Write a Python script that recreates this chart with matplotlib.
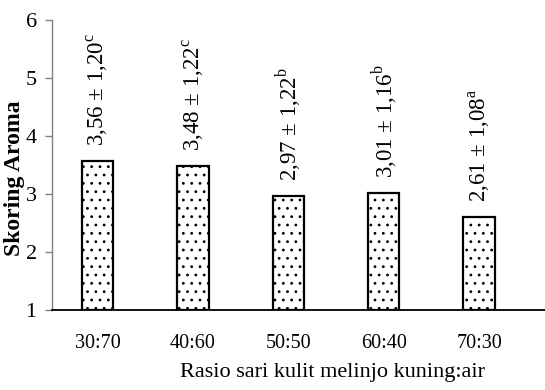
import matplotlib
matplotlib.use('Agg')
import matplotlib.pyplot as plt

plt.rcParams['font.family'] = ['Liberation Serif', 'DejaVu Serif']
plt.rcParams['mathtext.fontset'] = 'custom'
plt.rcParams['mathtext.rm'] = 'Liberation Serif'
plt.rcParams['hatch.linewidth'] = 0.8
plt.rcParams['hatch.color'] = '#444444'

# data
ratios = ['30:70', '40:60', '50:50', '60:40', '70:30']
means = [3.56, 3.48, 2.97, 3.01, 2.61]
sds = ['1,20', '1,22', '1,22', '1,16', '1,08']
letters = ['c', 'c', 'b', 'b', 'a']

fig = plt.figure(figsize=(5.45, 3.9), dpi=100)
ax = fig.add_axes([0.0954, 0.205, 0.9046, 0.744])

x = list(range(len(ratios)))
base = 1
ax.bar(x, [m - base for m in means], bottom=base, width=0.33,
       facecolor='white', edgecolor='black', linewidth=1.6,
       hatch='..', zorder=2)

# value labels
for xi, m, s, l in zip(x, means, sds, letters):
    txt = '{} \u00b1 {}$^{{\\mathrm{{{}}}}}$'.format(
        '{:.2f}'.format(m).replace('.', ','), s, l)
    ax.text(xi, m + 0.26, txt, rotation=90, ha='center', va='bottom',
            fontsize=16.5)

ax.set_xlim(-0.476, 4.69)
ax.set_ylim(1, 6)
ax.set_xticks(x)
ax.set_xticklabels(ratios, fontsize=14.5)
ax.set_yticks([1, 2, 3, 4, 5, 6])
ax.tick_params(axis='x', length=0, pad=17)
ax.tick_params(axis='y', length=5, width=1, color='#808080',
               labelsize=16, pad=6)

for side in ['top', 'right']:
    ax.spines[side].set_visible(False)
ax.spines['left'].set_color('#808080')
ax.spines['left'].set_linewidth(1)
ax.spines['bottom'].set_color('black')
ax.spines['bottom'].set_linewidth(1.3)

fig.text(332 / 545, 1 - 372 / 390, 'Rasio sari kulit melinjo kuning:air',
         ha='center', va='center', fontsize=16)
fig.text(15 / 545, 1 - 178 / 390, 'Skoring Aroma', rotation=90,
         ha='center', va='center', fontsize=17, fontweight='bold')

fig.savefig('out.png', dpi=100)
